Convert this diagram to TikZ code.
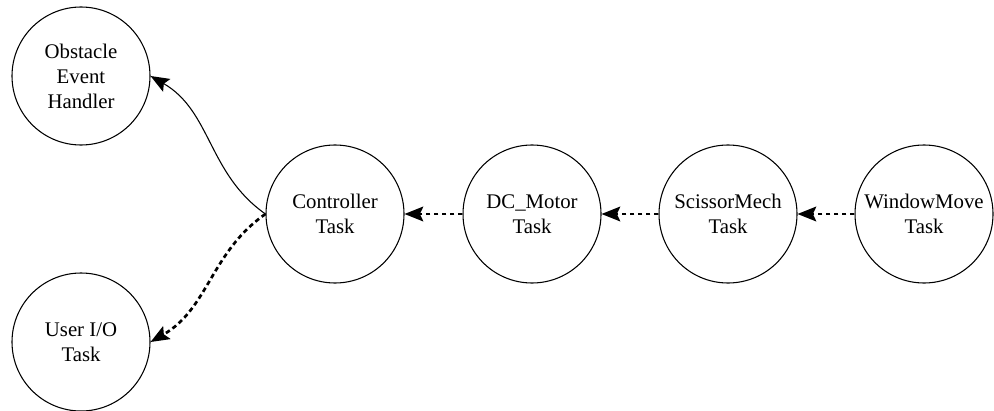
\documentclass[tikz,border=0pt]{standalone}
\usepackage{fontspec}
\setmainfont{Liberation Serif}
\usetikzlibrary{arrows.meta}
\tikzset{
  task/.style={circle,draw,line width=0.8pt,minimum size=103.5pt,inner sep=0pt,align=center,font=\fontsize{15.6}{18.75}\selectfont},
  call/.style={-{Stealth[length=14pt,width=11pt,inset=2.5pt]},line width=0.8pt},
  msg/.style={-{Stealth[length=14pt,width=11pt,inset=2.5pt]},line width=2pt,dash pattern=on 3.5pt off 2.5pt}
}
\begin{document}
\begin{tikzpicture}[x=0.75pt,y=-0.75pt]
\useasboundingbox (0,0) rectangle (994,410);
\begin{scope}[every node/.style={task}]
    \node (obs) at (81,76) {Obstacle\\Event\\Handler};
    \node (usr) at (81,342) {User I/O\\Task};
    \node (ctl) at (335,214) {Controller\\Task};
    \node (dcm) at (532,214) {DC\_Motor\\Task};
    \node (sci) at (728,214) {ScissorMech\\Task};
    \node (win) at (924,214) {WindowMove\\Task};
\end{scope}
\draw[call] (ctl.west) to[out=145,in=-30] (obs.east);
\draw[msg] (ctl.west) to[out=-145,in=30] (usr.east);
\draw[msg] (dcm) -- (ctl);
\draw[msg] (sci) -- (dcm);
\draw[msg] (win) -- (sci);
\end{tikzpicture}
\end{document}
